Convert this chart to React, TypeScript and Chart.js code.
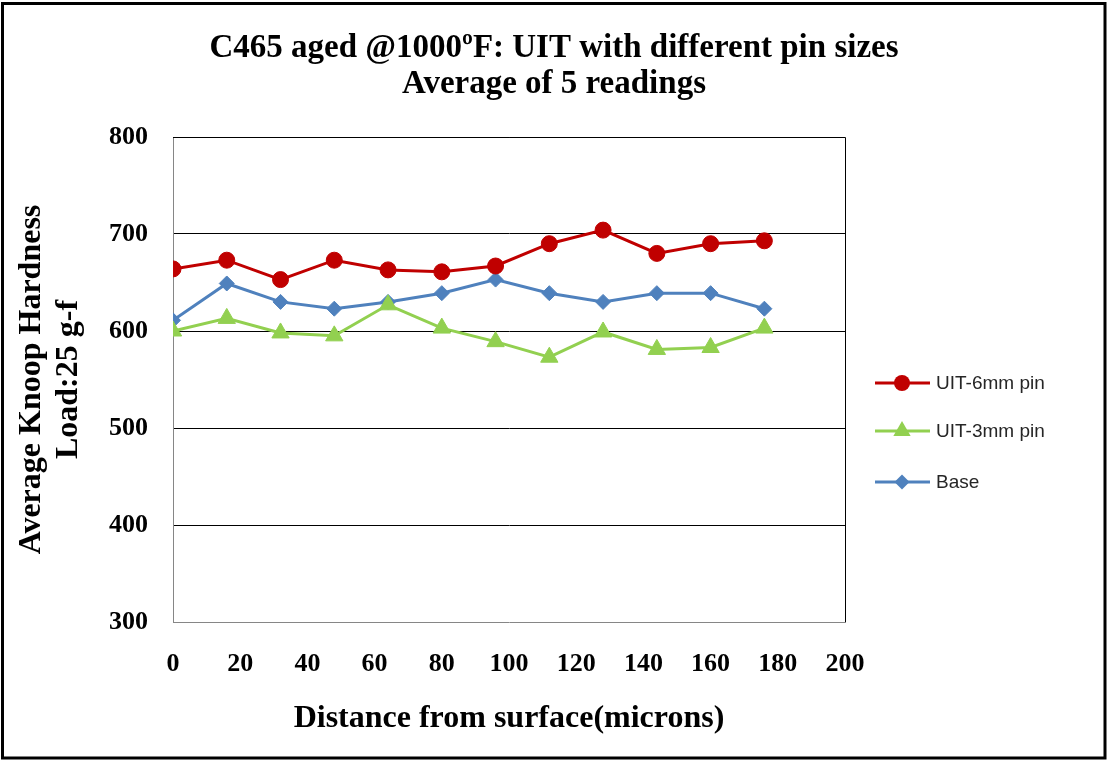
import React, { useEffect, useRef } from "react";
import { Chart, registerables } from "chart.js";

Chart.register(...registerables);

// ---- Data ----
const distances = [0, 16, 32, 48, 64, 80, 96, 112, 128, 144, 160, 176];
const uit6mm = [664, 673, 653, 673, 663, 661, 667, 690, 704, 680, 690, 693];
const uit3mm = [600, 613, 598, 595, 627, 603, 589, 573, 599, 581, 583, 603];
const baseVals = [611, 649, 630, 623, 630, 639, 653, 639, 630, 639, 639, 623];

const seriesNames = ["UIT-6mm pin", "UIT-3mm pin", "Base"];
const seriesColors = ["#C00000", "#92D050", "#4F81BD"];
const seriesMarkers = ["circle", "triangle", "rectRot"];
const markerRadius = [8, 10, 7.5];

const titleLines = ["C465 aged @1000\u00BAF: UIT with different pin sizes", "Average of 5 readings"];
const yTitleLines = ["Average Knoop Hardness", "Load:25 g-f"];
const xTitle = "Distance from surface(microns)";

const yMin = 300;
const yMax = 800;
const yStep = 100;
const xMin = 0;
const xMax = 200;
const xStep = 20;

const SERIF = "'Liberation Serif', 'Times New Roman', serif";
const SANS = "'Liberation Sans', Arial, sans-serif";
const legendRowsY = [383, 431, 482];

function drawMarker(ctx: CanvasRenderingContext2D, style: string, r: number, x: number, y: number) {
  ctx.beginPath();
  if (style === "circle") {
    ctx.arc(x, y, r, 0, Math.PI * 2);
  } else if (style === "triangle") {
    ctx.moveTo(x, y - r);
    ctx.lineTo(x + r * 0.866, y + r * 0.5);
    ctx.lineTo(x - r * 0.866, y + r * 0.5);
    ctx.closePath();
  } else {
    ctx.moveTo(x, y - r);
    ctx.lineTo(x + r, y);
    ctx.lineTo(x, y + r);
    ctx.lineTo(x - r, y);
    ctx.closePath();
  }
  ctx.fill();
}

const decorPlugin = {
  id: "decor",
  beforeDatasetsDraw(chart: any) {
    const { ctx, chartArea: a } = chart;
    ctx.save();
    ctx.strokeStyle = "#000";
    ctx.lineWidth = 1;
    ctx.beginPath();
    ctx.moveTo(a.left, a.top + 0.5);
    ctx.lineTo(a.right + 0.5, a.top + 0.5);
    ctx.lineTo(a.right + 0.5, a.bottom);
    ctx.stroke();
    ctx.restore();
  },
  afterDraw(chart: any) {
    const { ctx, chartArea: a, width, height } = chart;
    ctx.save();
    // Title
    ctx.fillStyle = "#000";
    ctx.textAlign = "center";
    ctx.textBaseline = "middle";
    ctx.font = `bold 33px ${SERIF}`;
    ctx.fillText(titleLines[0], width / 2, 48);
    ctx.fillText(titleLines[1], width / 2, 84);

    // X title
    ctx.font = `bold 32px ${SERIF}`;
    ctx.fillText(xTitle, (a.left + a.right) / 2, 719);

    // Y title
    const cy = (a.top + a.bottom) / 2;
    ctx.save();
    ctx.translate(32, cy);
    ctx.rotate(-Math.PI / 2);
    ctx.fillText(yTitleLines[0], 0, 0);
    ctx.restore();
    ctx.save();
    ctx.translate(69, cy);
    ctx.rotate(-Math.PI / 2);
    ctx.fillText(yTitleLines[1], 0, 0);
    ctx.restore();

    // Legend
    ctx.font = `19px ${SANS}`;
    ctx.textAlign = "left";
    chart.data.datasets.forEach((ds: any, i: number) => {
      const y = legendRowsY[i];
      ctx.strokeStyle = ds.borderColor;
      ctx.lineWidth = 3;
      ctx.beginPath();
      ctx.moveTo(875, y);
      ctx.lineTo(930, y);
      ctx.stroke();
      ctx.fillStyle = ds.pointBackgroundColor;
      drawMarker(ctx, ds.pointStyle, ds.pointRadius, 902, y);
      ctx.fillStyle = "#262626";
      ctx.fillText(ds.label, 936, y + 1);
    });

    // Outer border
    ctx.strokeStyle = "#000";
    ctx.lineWidth = 3;
    ctx.strokeRect(2.5, 3.5, width - 5.5, height - 5.5);
    ctx.restore();
  },
};

export default function App() {
  const canvasRef = useRef<HTMLCanvasElement | null>(null);

  useEffect(() => {
    if (!canvasRef.current) return;
    const seriesData = [uit6mm, uit3mm, baseVals];
    const chart = new Chart(canvasRef.current, {
      type: "line",
      data: {
        datasets: seriesData.map((vals, i) => ({
          label: seriesNames[i],
          data: distances.map((d, j) => ({ x: d, y: vals[j] })),
          borderColor: seriesColors[i],
          backgroundColor: seriesColors[i],
          pointBackgroundColor: seriesColors[i],
          pointBorderColor: seriesColors[i],
          pointBorderWidth: 1,
          pointStyle: seriesMarkers[i] as any,
          pointRadius: markerRadius[i],
          borderWidth: 3,
          tension: 0,
          fill: false,
        })),
      },
      options: {
        responsive: false,
        animation: false,
        devicePixelRatio: 1,
        layout: { padding: { left: 0, top: 137, right: 263, bottom: 0 } },
        plugins: {
          legend: { display: false },
          title: { display: false },
          tooltip: { enabled: false },
        },
        scales: {
          x: {
            type: "linear",
            min: xMin,
            max: xMax,
            afterFit: (s: any) => {
              s.height = 138;
            },
            ticks: {
              stepSize: xStep,
              padding: 27,
              color: "#000",
              font: { family: SERIF, size: 26, weight: "bold" },
              maxRotation: 0,
              autoSkip: false,
            },
            grid: { display: false, drawTicks: false },
            border: { display: true, color: "#868686", width: 1 },
          },
          y: {
            type: "linear",
            min: yMin,
            max: yMax,
            afterFit: (s: any) => {
              s.width = 173;
            },
            ticks: {
              stepSize: yStep,
              padding: 25,
              color: "#000",
              font: { family: SERIF, size: 26, weight: "bold" },
            },
            grid: {
              drawTicks: false,
              color: (c: any) => (c.tick && c.tick.value === yMin ? "rgba(0,0,0,0)" : "#000"),
              lineWidth: 1,
            },
            border: { display: true, color: "#868686", width: 1 },
          },
        },
      },
      plugins: [decorPlugin],
    });
    return () => chart.destroy();
  }, []);

  return (
    <div style={{ position: "absolute", left: 0, top: 0, width: 1108, height: 760, background: "#fff" }}>
      <canvas ref={canvasRef} width={1108} height={760} style={{ display: "block" }} />
    </div>
  );
}
